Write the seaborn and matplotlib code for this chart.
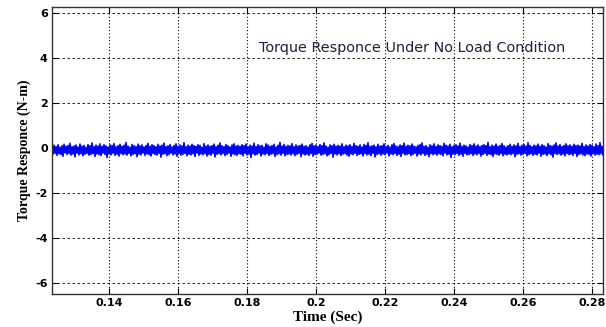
import numpy as np
import pandas as pd
import matplotlib
matplotlib.use("Agg")
import matplotlib.pyplot as plt
import seaborn as sns

# Time window of the recorded torque trace (s)
time_start = 0.1235
time_end = 0.2832

# Torque samples (N-m) (ripple around zero)
torque = [
    0.10, -0.26, 0.14, -0.22, 0.08, -0.31, 0.16, -0.24, 0.05, -0.28, 0.12, -0.35, 0.18, -0.20, 0.09, -0.27, 0.13, -0.23, 0.22, -0.30, 0.07, -0.25, 0.11, -0.38,
    0.15, -0.21, 0.06, -0.29, 0.19, -0.24, 0.10, -0.33, 0.13, -0.26, 0.04, -0.22, 0.17, -0.30, 0.12, -0.27, 0.24, -0.23, 0.08, -0.36, 0.14, -0.25, 0.10, -0.28,
    0.20, -0.32, 0.09, -0.21, 0.16, -0.27, 0.11, -0.40, 0.06, -0.24, 0.15, -0.29, 0.13, -0.22, 0.21, -0.31, 0.07, -0.26, 0.12, -0.34, 0.18, -0.23, 0.09, -0.28,
    0.14, -0.25, 0.26, -0.30, 0.10, -0.22, 0.05, -0.33, 0.17, -0.27, 0.12, -0.24, 0.08, -0.37, 0.19, -0.26, 0.11, -0.29, 0.15, -0.21, 0.06, -0.31, 0.13, -0.25,
    0.22, -0.28, 0.09, -0.34, 0.16, -0.23, 0.12, -0.27, 0.07, -0.30, 0.18, -0.22, 0.10, -0.39, 0.14, -0.26, 0.23, -0.24, 0.08, -0.32, 0.11, -0.28, 0.17, -0.21,
    0.06, -0.29, 0.13, -0.25, 0.20, -0.35, 0.09, -0.23, 0.15, -0.30, 0.11, -0.27, 0.25, -0.22, 0.07, -0.33, 0.14, -0.26, 0.10, -0.29, 0.18, -0.24, 0.12, -0.36,
    0.08, -0.21, 0.16, -0.31, 0.13, -0.25, 0.05, -0.28, 0.21, -0.23, 0.10, -0.34, 0.15, -0.27, 0.09, -0.30, 0.12, -0.22, 0.19, -0.38, 0.07, -0.26, 0.14, -0.24,
    0.24, -0.29, 0.11, -0.23, 0.08, -0.32, 0.17, -0.27, 0.12, -0.21, 0.06, -0.35, 0.15, -0.25, 0.20, -0.28, 0.10, -0.31, 0.13, -0.24, 0.09, -0.26, 0.16, -0.33,
    0.12, -0.22, 0.19, -0.29, 0.07, -0.26, 0.14, -0.40, 0.10, -0.24, 0.23, -0.30, 0.08, -0.27, 0.16, -0.21, 0.11, -0.34, 0.13, -0.25, 0.05, -0.28, 0.20, -0.23,
    0.15, -0.31, 0.09, -0.26, 0.12, -0.23, 0.18, -0.36, 0.06, -0.28, 0.14, -0.24, 0.26, -0.30, 0.10, -0.22, 0.17, -0.33, 0.08, -0.27, 0.13, -0.25, 0.11, -0.29,
    0.21, -0.24, 0.07, -0.32, 0.15, -0.27, 0.10, -0.22, 0.13, -0.37, 0.19, -0.25, 0.09, -0.29, 0.12, -0.26, 0.06, -0.31, 0.16, -0.23, 0.22, -0.35, 0.11, -0.28,
    0.14, -0.26, 0.08, -0.21, 0.17, -0.30, 0.12, -0.27, 0.24, -0.24, 0.10, -0.33, 0.05, -0.28, 0.15, -0.22, 0.11, -0.39, 0.18, -0.25, 0.09, -0.29, 0.13, -0.24,
    0.10, -0.32, 0.20, -0.26, 0.07, -0.23, 0.14, -0.30, 0.11, -0.35, 0.16, -0.25, 0.08, -0.28, 0.22, -0.22, 0.12, -0.31, 0.09, -0.27, 0.15, -0.24, 0.06, -0.34,
    0.17, -0.23, 0.13, -0.29, 0.25, -0.26, 0.09, -0.32, 0.11, -0.22, 0.14, -0.38, 0.07, -0.27, 0.18, -0.24, 0.10, -0.30, 0.12, -0.25, 0.20, -0.28, 0.08, -0.21,
    0.13, -0.33, 0.06, -0.25, 0.16, -0.28, 0.21, -0.23, 0.10, -0.31, 0.08, -0.26, 0.15, -0.36, 0.12, -0.22, 0.23, -0.29, 0.09, -0.27, 0.14, -0.24, 0.11, -0.32,
    0.19, -0.27, 0.10, -0.22, 0.07, -0.34, 0.13, -0.25, 0.17, -0.29, 0.24, -0.23, 0.09, -0.31, 0.12, -0.26, 0.05, -0.37, 0.16, -0.24, 0.11, -0.28, 0.20, -0.25,
    0.08, -0.30, 0.15, -0.24, 0.12, -0.27, 0.09, -0.33, 0.22, -0.21, 0.14, -0.29, 0.10, -0.26, 0.18, -0.40, 0.07, -0.25, 0.13, -0.28, 0.16, -0.23, 0.11, -0.31,
    0.23, -0.26, 0.09, -0.35, 0.14, -0.22, 0.11, -0.29, 0.06, -0.27, 0.17, -0.24, 0.12, -0.32, 0.20, -0.25, 0.10, -0.28, 0.15, -0.23, 0.08, -0.34, 0.13, -0.27,
    0.16, -0.22, 0.12, -0.31, 0.26, -0.25, 0.07, -0.28, 0.14, -0.36, 0.10, -0.24, 0.19, -0.27, 0.09, -0.30, 0.13, -0.23, 0.21, -0.33, 0.11, -0.26, 0.06, -0.29,
    0.12, -0.25, 0.18, -0.28, 0.09, -0.23, 0.15, -0.37, 0.11, -0.27, 0.22, -0.24, 0.08, -0.30, 0.14, -0.26, 0.17, -0.22, 0.10, -0.33, 0.25, -0.28, 0.13, -0.24,
    0.07, -0.31, 0.14, -0.26, 0.11, -0.29, 0.19, -0.22, 0.09, -0.35, 0.16, -0.27, 0.12, -0.25, 0.06, -0.32, 0.21, -0.24, 0.13, -0.28, 0.10, -0.39, 0.15, -0.23,
    0.24, -0.27, 0.10, -0.24, 0.17, -0.30, 0.08, -0.26, 0.13, -0.33, 0.20, -0.23, 0.11, -0.28, 0.15, -0.25, 0.09, -0.31, 0.18, -0.22, 0.12, -0.36, 0.14, -0.27,
    0.11, -0.24, 0.22, -0.29, 0.08, -0.32, 0.15, -0.25, 0.10, -0.27, 0.17, -0.34, 0.13, -0.23, 0.07, -0.30, 0.19, -0.26, 0.12, -0.28, 0.25, -0.24, 0.09, -0.31,
]

x_ticks = [0.14, 0.16, 0.18, 0.20, 0.22, 0.24, 0.26, 0.28]
x_tick_labels = ["0.14", "0.16", "0.18", "0.2", "0.22", "0.24", "0.26", "0.28"]
y_ticks = [-6, -4, -2, 0, 2, 4, 6]
y_tick_labels = ["-6", "-4", "-2", "0", "2", "4", "6"]

title_text = "Torque Responce Under No Load Condition"
x_label = "Time (Sec)"
y_label = "Torque Responce (N-m)"

df = pd.DataFrame({
    "time": np.linspace(time_start, time_end, len(torque)),
    "torque": torque,
})

sns.set_style("white")
plt.rcParams["font.family"] = ["DejaVu Sans"]

fig = plt.figure(figsize=(6.06, 3.27), dpi=100)
ax = fig.add_axes([52 / 606, 1 - 294 / 327, (603 - 52) / 606, (294 - 7) / 327])

sns.lineplot(data=df, x="time", y="torque", ax=ax, color="#0000ff",
             linewidth=1.2, estimator=None, sort=False)

ax.set_xlim(time_start, time_end)
ax.set_ylim(-6.47, 6.28)
ax.set_xticks(x_ticks)
ax.set_xticklabels(x_tick_labels, fontweight="bold", fontsize=8, color="black")
ax.set_yticks(y_ticks)
ax.set_yticklabels(y_tick_labels, fontweight="bold", fontsize=8, color="black")

for xv in x_ticks:
    ax.axvline(xv, color="black", linestyle=(0, (1, 2)), linewidth=0.8, zorder=0)
for yv in y_ticks:
    ax.axhline(yv, color="black", linestyle=(0, (3, 3)), linewidth=0.6, zorder=0)

ax.tick_params(direction="in", length=4, width=0.8, color="black",
               top=True, right=True, bottom=True, left=True, pad=3)
for s in ax.spines.values():
    s.set_color("#333333")
    s.set_linewidth(1.0)

ax.set_xlabel(x_label, family=["Liberation Serif", "DejaVu Serif"],
              fontweight="bold", fontsize=11, labelpad=2, color="black")
ax.set_ylabel(y_label, family=["Liberation Serif", "DejaVu Serif"],
              fontweight="bold", fontsize=10, labelpad=3, color="black")

ax.text(0.2278, 4.46, title_text, ha="center", va="center",
        fontsize=10.4, color="#202038")

fig.savefig("out.png", dpi=100)
